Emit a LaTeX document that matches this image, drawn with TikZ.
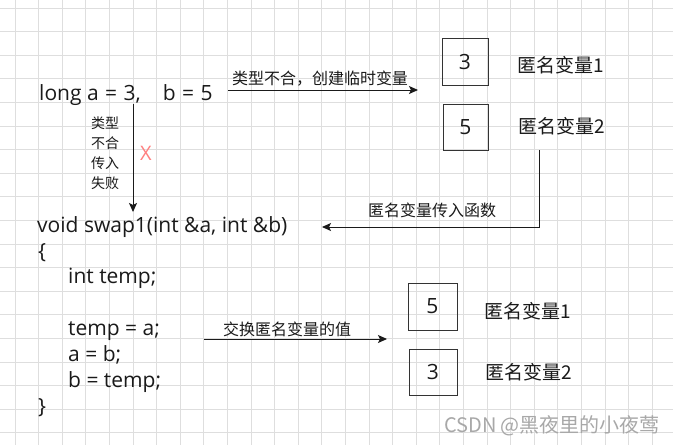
\documentclass[tikz,border=0pt]{standalone}
\usepackage{fontspec}
\setmainfont{Open Sans}
\newfontfamily\cjk{Noto Sans CJK SC}
\usetikzlibrary{arrows.meta}
\definecolor{gridc}{HTML}{DEDEDE}
\definecolor{ink}{HTML}{1A1A1A}
\definecolor{boxc}{HTML}{333333}
\definecolor{xred}{HTML}{FF8080}
\definecolor{wm}{HTML}{A8A8A8}
\tikzset{
  code/.style={anchor=base west, inner sep=0pt, text=ink, font=\fontsize{21}{25}\selectfont},
  lbl/.style={inner sep=0pt, text=ink, font=\cjk\fontsize{16}{19}\selectfont},
  small/.style={inner sep=0pt, text=ink, font=\cjk\fontsize{14}{17}\selectfont},
  anon/.style={inner sep=0pt, text=ink, font=\cjk\fontsize{19}{22}\selectfont},
  valbox/.style={draw=boxc, line width=1pt, inner sep=0pt, text=ink, font=\fontsize{21}{25}\selectfont},
  conn/.style={draw=ink, line width=1pt, -{Stealth[length=9pt,width=8pt,inset=2pt]}},
}
\begin{document}
\begin{tikzpicture}[x=1pt,y=-1pt]
\useasboundingbox (0,0) rectangle (673,445);
\fill[white] (0,0) rectangle (673,445);
% grid
\foreach \k in {0,...,27} \draw[gridc, line width=1pt] ({15+23.6*\k},0) -- ({15+23.6*\k},445);
\foreach \k in {0,...,18} \draw[gridc, line width=1pt] (0,{8+23.6*\k}) -- (673,{8+23.6*\k});

% top statement
\node[code] (decl) at (39,100) {long a\hspace{1pt} = \hspace{1pt}3,\hspace{22pt}b\hspace{1pt} = \hspace{1pt}5};

% value boxes (top)
\node[valbox, minimum width=46pt, minimum height=47pt] (b1) at (465,61.5) {3};
\node[valbox, minimum width=45pt, minimum height=46pt] (b2) at (465.5,127) {5};
\node[anon] (n1) at (561,65.5) {匿名变量1};
\node[anon] (n2) at (562,126.5) {匿名变量2};

% arrow 1
\coordinate (a1s) at (228,90);
\coordinate (a1e) at (418,90);
\draw[conn] (a1s) -- (a1e);
\node[lbl] (l1) at (320,78.5) {类型不合，创建临时变量};

% vertical arrow
\coordinate (a2s) at (133,104);
\coordinate (a2e) at (133,212);
\draw[conn] (a2s) -- (a2e);
\node[small] (s1) at (105,123) {类型};
\node[small] (s2) at (105,143) {不合};
\node[small] (s3) at (105,163) {传入};
\node[small] (s4) at (105,183) {失败};
\node[inner sep=0pt, text=xred, font=\fontsize{20}{24}\selectfont] (x) at (146,153) {X};

% pass into function
\coordinate (a3s) at (539,150);
\coordinate (a3m) at (539,227);
\coordinate (a3e) at (322,227);
\draw[conn] (a3s) -- (a3m) -- (a3e);
\node[lbl] (l2) at (432,210.5) {匿名变量传入函数};

% code
\node[code] (c1) at (37,232) {void swap1(int \&a, int \&b)};
\node[code] (c2) at (38,258) {\{};
\node[code] (c3) at (68,283.5) {int temp;};
\node[code] (c4) at (68,335.5) {temp = a;};
\node[code] (c5) at (68,361.5) {a = b;};
\node[code] (c6) at (68,387) {b = temp;};
\node[code] (c7) at (38,413) {\}};

% swap arrow
\coordinate (a4s) at (204,339);
\coordinate (a4e) at (387,339);
\draw[conn] (a4s) -- (a4e);
\node[lbl] (l3) at (287,329) {交换匿名变量的值};

% value boxes (bottom)
\node[valbox, minimum width=49pt, minimum height=47pt] (b3) at (432.5,306.5) {5};
\node[valbox, minimum width=48pt, minimum height=46pt] (b4) at (433,372) {3};
\node[anon] (n3) at (528,311) {匿名变量1};
\node[anon] (n4) at (529,372) {匿名变量2};

% watermark
\node[inner sep=0pt, text=wm, font=\cjk\fontsize{20}{24}\selectfont] (wmk) at (552,426) {CSDN @黑夜里的小夜莺};
\end{tikzpicture}
\end{document}
